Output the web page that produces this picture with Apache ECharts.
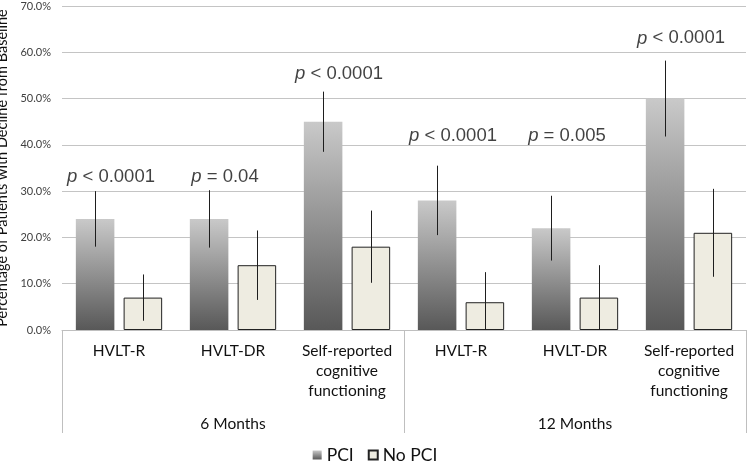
<!DOCTYPE html>
<html>
<head>
<meta charset="utf-8">
<script src="https://cdn.jsdelivr.net/npm/echarts@6/dist/echarts.min.js"></script>
<style>html,body{margin:0;padding:0;background:#fff}#c{width:750px;height:464px}</style>
</head>
<body>
<div id="c"></div>
<script>
// ---- data ----
const categories = ['HVLT-R', 'HVLT-DR', 'Self-reported\ncognitive\nfunctioning', 'HVLT-R', 'HVLT-DR', 'Self-reported\ncognitive\nfunctioning'];
const groups = ['6 Months', '12 Months'];
const pciValues = [24, 24, 45, 28, 22, 50];
const pciErr = [6, 6.2, 6.5, 7.5, 7, 8.2];
const noPciValues = [7, 14, 18, 6, 7, 21];
const noPciErr = [5, 7.5, 7.8, 6.5, 7, 9.5];
const pOps = ['<', '=', '<', '<', '=', '<'];
const pVals = ['0.0001', '0.04', '0.0001', '0.0001', '0.005', '0.0001'];
const pLabelY = [33, 33, 55.3, 42, 42, 63];
const yTicks = [0, 10, 20, 30, 40, 50, 60, 70];

const BAR_FRAC = 0.338, GAP_FRAC = 0.24;
const FONT = 'Lato, "Open Sans", sans-serif';

const errData = [];
pciValues.forEach((v, i) => errData.push([i, Math.max(0, v - pciErr[i]), v + pciErr[i], -1]));
noPciValues.forEach((v, i) => errData.push([i, Math.max(0, v - noPciErr[i]), v + noPciErr[i], 1]));

const pciGrad = new echarts.graphic.LinearGradient(0, 0, 0, 1, [
  { offset: 0, color: '#c9c9c9' },
  { offset: 1, color: '#585858' }
]);

const chart = echarts.init(document.getElementById('c'), null, { renderer: 'canvas' });
chart.setOption({
  animation: false,
  grid: { left: 62, right: 4, top: 6, bottom: 134, outerBoundsMode: 'none' },
  legend: {
    data: [{ name: 'PCI', icon: 'rect' }, { name: 'No PCI', icon: 'rect' }],
    top: 441,
    left: 'center',
    itemWidth: 9, itemHeight: 9, itemGap: 14,
    textStyle: { fontFamily: FONT, fontSize: 17.5, color: '#111' }
  },
  xAxis: [
    {
      type: 'category', data: categories, position: 'bottom',
      axisLine: { lineStyle: { color: '#bfbfbf', width: 1 } },
      axisTick: { show: false },
      axisLabel: { interval: 0, margin: 11, fontFamily: FONT, fontSize: 15.5, lineHeight: 20, color: '#111', align: 'center' }
    },
    {
      type: 'category', data: groups, position: 'bottom',
      axisLine: { show: false },
      axisTick: { show: true, length: 103, lineStyle: { color: '#bfbfbf', width: 1 } },
      axisLabel: { margin: 84, fontFamily: FONT, fontSize: 15.5, lineHeight: 20, color: '#111' },
      splitLine: { show: false }
    }
  ],
  yAxis: {
    type: 'value', min: 0, max: 70, interval: 10,
    name: 'Percentage of Patients with Decline from Baseline',
    nameLocation: 'middle', nameGap: 51, nameRotate: 90,
    nameTextStyle: { fontFamily: FONT, fontSize: 14.5, color: '#111' },
    axisLine: { show: false }, axisTick: { show: false },
    axisLabel: {
      margin: 11, fontFamily: FONT, fontSize: 11, color: '#404040',
      formatter: v => yTicks.includes(v) ? v.toFixed(1) + '%' : ''
    },
    splitLine: { lineStyle: { color: '#c4c4c4', width: 1 } }
  },
  series: [
    {
      name: 'PCI', type: 'bar', data: pciValues,
      barWidth: (BAR_FRAC * 100) + '%', barGap: (GAP_FRAC * 100) + '%',
      itemStyle: { color: pciGrad }
    },
    {
      name: 'No PCI', type: 'bar', data: noPciValues,
      barWidth: (BAR_FRAC * 100) + '%', barGap: (GAP_FRAC * 100) + '%',
      itemStyle: { color: '#eeece1', borderColor: '#222', borderWidth: 1 }
    },
    {
      name: 'err', type: 'custom', data: errData, z: 10,
      encode: { x: 0, y: [1, 2] },
      renderItem: function (params, api) {
        const band = api.size([1, 0])[0];
        const bw = band * BAR_FRAC;
        const off = (bw + bw * GAP_FRAC) / 2 * api.value(3);
        const p1 = api.coord([api.value(0), api.value(1)]);
        const p2 = api.coord([api.value(0), api.value(2)]);
        return {
          type: 'line',
          shape: { x1: Math.round(p1[0] + off) + 0.5, y1: p1[1], x2: Math.round(p2[0] + off) + 0.5, y2: p2[1] },
          style: { stroke: '#1e1e1e', lineWidth: 1 }
        };
      }
    },
    {
      name: 'p', type: 'scatter', symbolSize: 0, z: 11,
      data: pLabelY.map((y, i) => [i, y]),
      label: {
        show: true, position: 'inside', offset: [-8, 0],
        fontFamily: '"Liberation Sans", Arial, sans-serif', fontSize: 18.5, color: '#111',
        formatter: p => '{i|p} ' + pOps[p.dataIndex] + ' ' + pVals[p.dataIndex],
        rich: { i: { fontStyle: 'italic', fontFamily: '"Liberation Sans", Arial, sans-serif', fontSize: 18.5, color: '#111' } }
      }
    }
  ]
});
</script>
</body>
</html>
